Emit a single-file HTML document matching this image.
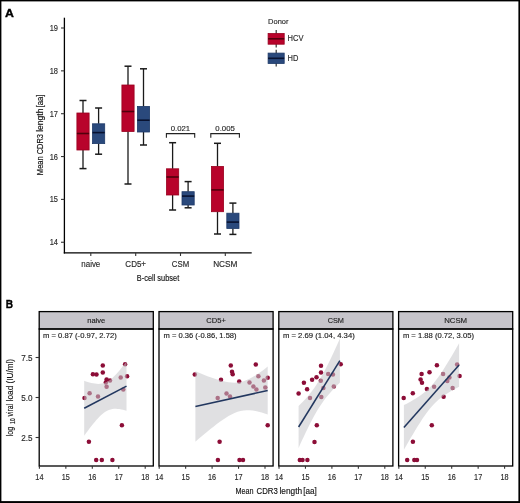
<!DOCTYPE html>
<html><head><meta charset="utf-8"><title>Figure</title>
<style>html,body{margin:0;padding:0;background:#fff;}body{width:520px;height:503px;overflow:hidden;font-family:"Liberation Sans",sans-serif;}svg{display:block;will-change:transform;}</style>
</head><body>
<svg width="520" height="503" viewBox="0 0 520 503" font-family='"Liberation Sans", sans-serif'>
<rect x="0" y="0" width="520" height="503" fill="#fff"/>
<text x="5.0" y="16.9" font-size="11.2" text-anchor="start" fill="#000" font-weight="bold" stroke="#000" stroke-width="0.35" textLength="8.9" lengthAdjust="spacingAndGlyphs">A</text>
<line x1="64.4" y1="17.7" x2="64.4" y2="253.5" stroke="#000" stroke-width="1.3"/>
<line x1="63.8" y1="252.9" x2="251.7" y2="252.9" stroke="#000" stroke-width="1.3"/>
<line x1="61" y1="28.0" x2="64.4" y2="28.0" stroke="#333" stroke-width="1.1"/>
<text x="58.0" y="31.0" font-size="8.4" text-anchor="end" fill="#2a2a2a" font-weight="normal" stroke="#2a2a2a" stroke-width="0.15" textLength="8.3" lengthAdjust="spacingAndGlyphs">19</text>
<line x1="61" y1="70.85" x2="64.4" y2="70.85" stroke="#333" stroke-width="1.1"/>
<text x="58.0" y="73.85" font-size="8.4" text-anchor="end" fill="#2a2a2a" font-weight="normal" stroke="#2a2a2a" stroke-width="0.15" textLength="8.3" lengthAdjust="spacingAndGlyphs">18</text>
<line x1="61" y1="113.7" x2="64.4" y2="113.7" stroke="#333" stroke-width="1.1"/>
<text x="58.0" y="116.7" font-size="8.4" text-anchor="end" fill="#2a2a2a" font-weight="normal" stroke="#2a2a2a" stroke-width="0.15" textLength="8.3" lengthAdjust="spacingAndGlyphs">17</text>
<line x1="61" y1="156.55" x2="64.4" y2="156.55" stroke="#333" stroke-width="1.1"/>
<text x="58.0" y="159.55" font-size="8.4" text-anchor="end" fill="#2a2a2a" font-weight="normal" stroke="#2a2a2a" stroke-width="0.15" textLength="8.3" lengthAdjust="spacingAndGlyphs">16</text>
<line x1="61" y1="199.4" x2="64.4" y2="199.4" stroke="#333" stroke-width="1.1"/>
<text x="58.0" y="202.4" font-size="8.4" text-anchor="end" fill="#2a2a2a" font-weight="normal" stroke="#2a2a2a" stroke-width="0.15" textLength="8.3" lengthAdjust="spacingAndGlyphs">15</text>
<line x1="61" y1="242.25" x2="64.4" y2="242.25" stroke="#333" stroke-width="1.1"/>
<text x="58.0" y="245.25" font-size="8.4" text-anchor="end" fill="#2a2a2a" font-weight="normal" stroke="#2a2a2a" stroke-width="0.15" textLength="8.3" lengthAdjust="spacingAndGlyphs">14</text>
<line x1="90.8" y1="253" x2="90.8" y2="256" stroke="#333" stroke-width="1.1"/>
<text x="90.8" y="266.8" font-size="8.3" text-anchor="middle" fill="#2a2a2a" font-weight="normal" stroke="#2a2a2a" stroke-width="0.15" textLength="19.0" lengthAdjust="spacingAndGlyphs">naive</text>
<line x1="135.7" y1="253" x2="135.7" y2="256" stroke="#333" stroke-width="1.1"/>
<text x="135.7" y="266.8" font-size="8.3" text-anchor="middle" fill="#2a2a2a" font-weight="normal" stroke="#2a2a2a" stroke-width="0.15" textLength="20.7" lengthAdjust="spacingAndGlyphs">CD5+</text>
<line x1="180.5" y1="253" x2="180.5" y2="256" stroke="#333" stroke-width="1.1"/>
<text x="180.5" y="266.8" font-size="8.3" text-anchor="middle" fill="#2a2a2a" font-weight="normal" stroke="#2a2a2a" stroke-width="0.15" textLength="17.3" lengthAdjust="spacingAndGlyphs">CSM</text>
<line x1="225.3" y1="253" x2="225.3" y2="256" stroke="#333" stroke-width="1.1"/>
<text x="225.3" y="266.8" font-size="8.3" text-anchor="middle" fill="#2a2a2a" font-weight="normal" stroke="#2a2a2a" stroke-width="0.15" textLength="24.3" lengthAdjust="spacingAndGlyphs">NCSM</text>
<text x="158.0" y="280.5" font-size="9.8" text-anchor="middle" fill="#111" font-weight="normal" stroke="#111" stroke-width="0.15" textLength="42.4" lengthAdjust="spacingAndGlyphs">B-cell subset</text>
<text transform="translate(43.0,175.2) rotate(-90)" x="0" y="0" font-size="9.6" fill="#111" stroke="#111" stroke-width="0.15" textLength="19.0" lengthAdjust="spacingAndGlyphs">Mean</text>
<text transform="translate(43.0,154.3) rotate(-90)" x="0" y="0" font-size="9.6" fill="#111" stroke="#111" stroke-width="0.15" textLength="20.3" lengthAdjust="spacingAndGlyphs">CDR3</text>
<text transform="translate(43.0,131.8) rotate(-90)" x="0" y="0" font-size="9.6" fill="#111" stroke="#111" stroke-width="0.15" textLength="23.3" lengthAdjust="spacingAndGlyphs">length</text>
<text transform="translate(43.0,107.3) rotate(-90)" x="0" y="0" font-size="9.6" fill="#111" stroke="#111" stroke-width="0.15" textLength="12.7" lengthAdjust="spacingAndGlyphs">[aa]</text>
<line x1="83.0" y1="100.5" x2="83.0" y2="113.0" stroke="#1a1a1a" stroke-width="1.3"/>
<line x1="83.0" y1="150.0" x2="83.0" y2="168.6" stroke="#1a1a1a" stroke-width="1.3"/>
<line x1="79.5" y1="100.5" x2="86.5" y2="100.5" stroke="#1a1a1a" stroke-width="1.5"/>
<line x1="79.5" y1="168.6" x2="86.5" y2="168.6" stroke="#1a1a1a" stroke-width="1.5"/>
<rect x="76.9" y="113.0" width="12.2" height="37.0" fill="#B8032B" stroke="#9A001E" stroke-width="0.8"/>
<line x1="76.9" y1="133.5" x2="89.1" y2="133.5" stroke="#50000C" stroke-width="1.6"/>
<line x1="98.6" y1="108.0" x2="98.6" y2="123.8" stroke="#1a1a1a" stroke-width="1.3"/>
<line x1="98.6" y1="143.6" x2="98.6" y2="154.2" stroke="#1a1a1a" stroke-width="1.3"/>
<line x1="95.1" y1="108.0" x2="102.1" y2="108.0" stroke="#1a1a1a" stroke-width="1.5"/>
<line x1="95.1" y1="154.2" x2="102.1" y2="154.2" stroke="#1a1a1a" stroke-width="1.5"/>
<rect x="92.5" y="123.8" width="12.2" height="19.799999999999997" fill="#2A497C" stroke="#1F3B69" stroke-width="0.8"/>
<line x1="92.5" y1="132.6" x2="104.69999999999999" y2="132.6" stroke="#081230" stroke-width="1.6"/>
<line x1="128.0" y1="66.2" x2="128.0" y2="85.0" stroke="#1a1a1a" stroke-width="1.3"/>
<line x1="128.0" y1="131.5" x2="128.0" y2="184.0" stroke="#1a1a1a" stroke-width="1.3"/>
<line x1="124.5" y1="66.2" x2="131.5" y2="66.2" stroke="#1a1a1a" stroke-width="1.5"/>
<line x1="124.5" y1="184.0" x2="131.5" y2="184.0" stroke="#1a1a1a" stroke-width="1.5"/>
<rect x="121.9" y="85.0" width="12.2" height="46.5" fill="#B8032B" stroke="#9A001E" stroke-width="0.8"/>
<line x1="121.9" y1="111.5" x2="134.1" y2="111.5" stroke="#50000C" stroke-width="1.6"/>
<line x1="143.5" y1="68.8" x2="143.5" y2="106.4" stroke="#1a1a1a" stroke-width="1.3"/>
<line x1="143.5" y1="132.0" x2="143.5" y2="145.0" stroke="#1a1a1a" stroke-width="1.3"/>
<line x1="140.0" y1="68.8" x2="147.0" y2="68.8" stroke="#1a1a1a" stroke-width="1.5"/>
<line x1="140.0" y1="145.0" x2="147.0" y2="145.0" stroke="#1a1a1a" stroke-width="1.5"/>
<rect x="137.4" y="106.4" width="12.2" height="25.599999999999994" fill="#2A497C" stroke="#1F3B69" stroke-width="0.8"/>
<line x1="137.4" y1="120.2" x2="149.6" y2="120.2" stroke="#081230" stroke-width="1.6"/>
<line x1="172.6" y1="142.7" x2="172.6" y2="168.8" stroke="#1a1a1a" stroke-width="1.3"/>
<line x1="172.6" y1="195.0" x2="172.6" y2="210.0" stroke="#1a1a1a" stroke-width="1.3"/>
<line x1="169.1" y1="142.7" x2="176.1" y2="142.7" stroke="#1a1a1a" stroke-width="1.5"/>
<line x1="169.1" y1="210.0" x2="176.1" y2="210.0" stroke="#1a1a1a" stroke-width="1.5"/>
<rect x="166.5" y="168.8" width="12.2" height="26.19999999999999" fill="#B8032B" stroke="#9A001E" stroke-width="0.8"/>
<line x1="166.5" y1="177.0" x2="178.7" y2="177.0" stroke="#50000C" stroke-width="1.6"/>
<line x1="188.1" y1="181.6" x2="188.1" y2="191.7" stroke="#1a1a1a" stroke-width="1.3"/>
<line x1="188.1" y1="205.0" x2="188.1" y2="207.8" stroke="#1a1a1a" stroke-width="1.3"/>
<line x1="184.6" y1="181.6" x2="191.6" y2="181.6" stroke="#1a1a1a" stroke-width="1.5"/>
<line x1="184.6" y1="207.8" x2="191.6" y2="207.8" stroke="#1a1a1a" stroke-width="1.5"/>
<rect x="182.0" y="191.7" width="12.2" height="13.300000000000011" fill="#2A497C" stroke="#1F3B69" stroke-width="0.8"/>
<line x1="182.0" y1="196.1" x2="194.2" y2="196.1" stroke="#081230" stroke-width="1.6"/>
<line x1="217.5" y1="143.3" x2="217.5" y2="166.4" stroke="#1a1a1a" stroke-width="1.3"/>
<line x1="217.5" y1="211.7" x2="217.5" y2="234.0" stroke="#1a1a1a" stroke-width="1.3"/>
<line x1="214.0" y1="143.3" x2="221.0" y2="143.3" stroke="#1a1a1a" stroke-width="1.5"/>
<line x1="214.0" y1="234.0" x2="221.0" y2="234.0" stroke="#1a1a1a" stroke-width="1.5"/>
<rect x="211.4" y="166.4" width="12.2" height="45.29999999999998" fill="#B8032B" stroke="#9A001E" stroke-width="0.8"/>
<line x1="211.4" y1="189.9" x2="223.6" y2="189.9" stroke="#50000C" stroke-width="1.6"/>
<line x1="232.9" y1="203.1" x2="232.9" y2="213.2" stroke="#1a1a1a" stroke-width="1.3"/>
<line x1="232.9" y1="228.5" x2="232.9" y2="234.4" stroke="#1a1a1a" stroke-width="1.3"/>
<line x1="229.4" y1="203.1" x2="236.4" y2="203.1" stroke="#1a1a1a" stroke-width="1.5"/>
<line x1="229.4" y1="234.4" x2="236.4" y2="234.4" stroke="#1a1a1a" stroke-width="1.5"/>
<rect x="226.8" y="213.2" width="12.2" height="15.300000000000011" fill="#2A497C" stroke="#1F3B69" stroke-width="0.8"/>
<line x1="226.8" y1="222.1" x2="239.0" y2="222.1" stroke="#081230" stroke-width="1.6"/>
<polyline points="166.4,137.8 166.4,133.6 194.7,133.6 194.7,137.8" fill="none" stroke="#222" stroke-width="1.1"/>
<text x="180.4" y="130.9" font-size="7.8" text-anchor="middle" fill="#2a2a2a" font-weight="normal" stroke="#2a2a2a" stroke-width="0.15" textLength="19.5" lengthAdjust="spacingAndGlyphs">0.021</text>
<polyline points="210.8,137.8 210.8,133.6 239.4,133.6 239.4,137.8" fill="none" stroke="#222" stroke-width="1.1"/>
<text x="225.1" y="130.9" font-size="7.8" text-anchor="middle" fill="#2a2a2a" font-weight="normal" stroke="#2a2a2a" stroke-width="0.15" textLength="19.5" lengthAdjust="spacingAndGlyphs">0.005</text>
<text x="268.1" y="24.2" font-size="8.0" text-anchor="start" fill="#2a2a2a" font-weight="normal" stroke="#2a2a2a" stroke-width="0.15" textLength="20.4" lengthAdjust="spacingAndGlyphs">Donor</text>
<line x1="276.2" y1="30.0" x2="276.2" y2="47.4" stroke="#333" stroke-width="1.2"/>
<rect x="268.1" y="33.5" width="16.1" height="10.700000000000003" fill="#B8032B" stroke="#9A001E" stroke-width="0.8"/>
<line x1="268.1" y1="38.8" x2="284.2" y2="38.8" stroke="#50000C" stroke-width="1.6"/>
<text x="287.6" y="41.1" font-size="8.2" text-anchor="start" fill="#2a2a2a" font-weight="normal" stroke="#2a2a2a" stroke-width="0.15" textLength="15.9" lengthAdjust="spacingAndGlyphs">HCV</text>
<line x1="276.2" y1="49.7" x2="276.2" y2="66.6" stroke="#333" stroke-width="1.2"/>
<rect x="268.1" y="53.1" width="16.1" height="10.399999999999999" fill="#2A497C" stroke="#1F3B69" stroke-width="0.8"/>
<line x1="268.1" y1="58.3" x2="284.2" y2="58.3" stroke="#081230" stroke-width="1.6"/>
<text x="287.6" y="60.6" font-size="8.2" text-anchor="start" fill="#2a2a2a" font-weight="normal" stroke="#2a2a2a" stroke-width="0.15" textLength="10.8" lengthAdjust="spacingAndGlyphs">HD</text>
<text x="5.8" y="308.3" font-size="10.6" text-anchor="start" fill="#000" font-weight="bold" stroke="#000" stroke-width="0.35" textLength="7.3" lengthAdjust="spacingAndGlyphs">B</text>
<clipPath id="c0"><rect x="39.2" y="329.0" width="114.1" height="137.0"/></clipPath>
<g clip-path="url(#c0)">
<circle cx="102.8" cy="365.5" r="2.25" fill="#8C0D37"/>
<circle cx="102.8" cy="372.4" r="2.25" fill="#8C0D37"/>
<circle cx="92.9" cy="374.2" r="2.25" fill="#8C0D37"/>
<circle cx="96.5" cy="374.6" r="2.25" fill="#8C0D37"/>
<circle cx="106.6" cy="379.6" r="2.25" fill="#8C0D37"/>
<circle cx="110.0" cy="380.5" r="2.25" fill="#8C0D37"/>
<circle cx="105.8" cy="382.6" r="2.25" fill="#8C0D37"/>
<circle cx="106.6" cy="386.8" r="2.25" fill="#8C0D37"/>
<circle cx="125.1" cy="364.3" r="2.25" fill="#8C0D37"/>
<circle cx="120.7" cy="377.4" r="2.25" fill="#8C0D37"/>
<circle cx="127.1" cy="376.3" r="2.25" fill="#8C0D37"/>
<circle cx="89.6" cy="393.3" r="2.25" fill="#8C0D37"/>
<circle cx="84.5" cy="398.1" r="2.25" fill="#8C0D37"/>
<circle cx="98.0" cy="396.6" r="2.25" fill="#8C0D37"/>
<circle cx="123.3" cy="389.4" r="2.25" fill="#8C0D37"/>
<circle cx="88.9" cy="441.8" r="2.25" fill="#8C0D37"/>
<circle cx="121.9" cy="425.3" r="2.25" fill="#8C0D37"/>
<circle cx="96.2" cy="459.9" r="2.25" fill="#8C0D37"/>
<circle cx="101.8" cy="459.9" r="2.25" fill="#8C0D37"/>
<circle cx="112.4" cy="459.9" r="2.25" fill="#8C0D37"/>
<polygon points="84.20,380.80 85.96,381.39 87.73,381.94 89.49,382.45 91.25,382.90 93.01,383.28 94.78,383.59 96.54,383.79 98.30,383.88 100.06,383.83 101.83,383.61 103.59,383.21 105.35,382.60 107.11,381.77 108.88,380.72 110.64,379.45 112.40,377.98 114.16,376.32 115.92,374.51 117.69,372.55 119.45,370.48 121.21,368.32 122.97,366.08 124.74,363.77 126.50,361.41 126.50,410.79 124.74,410.28 122.97,409.82 121.21,409.43 119.45,409.12 117.69,408.90 115.92,408.79 114.16,408.83 112.40,409.02 110.64,409.40 108.88,409.98 107.11,410.78 105.35,411.80 103.59,413.04 101.83,414.49 100.06,416.12 98.30,417.92 96.54,419.86 94.78,421.91 93.01,424.07 91.25,426.30 89.49,428.60 87.73,430.96 85.96,433.36 84.20,435.80" fill="#C6C6CB" fill-opacity="0.55"/>
<line x1="84.2" y1="408.3" x2="126.5" y2="386.1" stroke="#22375F" stroke-width="1.55"/>
</g>
<rect x="39.2" y="311.6" width="114.1" height="17.399999999999977" fill="#C6C4CA" stroke="#000" stroke-width="1.3"/>
<text x="96.25" y="322.6" font-size="8.1" text-anchor="middle" fill="#222" font-weight="normal" stroke="#222" stroke-width="0.15" textLength="18.0" lengthAdjust="spacingAndGlyphs">naive</text>
<rect x="39.2" y="329.0" width="114.1" height="137.0" fill="none" stroke="#000" stroke-width="1.3"/>
<text x="42.9" y="338.1" font-size="7.8" text-anchor="start" fill="#222" font-weight="normal" stroke="#222" stroke-width="0.15" textLength="73.9" lengthAdjust="spacingAndGlyphs">m = 0.87 (-0.97, 2.72)</text>
<line x1="39.4" y1="466.0" x2="39.4" y2="468.8" stroke="#333" stroke-width="1.1"/>
<text x="39.4" y="479.9" font-size="8.4" text-anchor="middle" fill="#2a2a2a" font-weight="normal" stroke="#2a2a2a" stroke-width="0.15" textLength="8.1" lengthAdjust="spacingAndGlyphs">14</text>
<line x1="65.85" y1="466.0" x2="65.85" y2="468.8" stroke="#333" stroke-width="1.1"/>
<text x="65.85" y="479.9" font-size="8.4" text-anchor="middle" fill="#2a2a2a" font-weight="normal" stroke="#2a2a2a" stroke-width="0.15" textLength="8.1" lengthAdjust="spacingAndGlyphs">15</text>
<line x1="92.3" y1="466.0" x2="92.3" y2="468.8" stroke="#333" stroke-width="1.1"/>
<text x="92.3" y="479.9" font-size="8.4" text-anchor="middle" fill="#2a2a2a" font-weight="normal" stroke="#2a2a2a" stroke-width="0.15" textLength="8.1" lengthAdjust="spacingAndGlyphs">16</text>
<line x1="118.75" y1="466.0" x2="118.75" y2="468.8" stroke="#333" stroke-width="1.1"/>
<text x="118.75" y="479.9" font-size="8.4" text-anchor="middle" fill="#2a2a2a" font-weight="normal" stroke="#2a2a2a" stroke-width="0.15" textLength="8.1" lengthAdjust="spacingAndGlyphs">17</text>
<line x1="145.2" y1="466.0" x2="145.2" y2="468.8" stroke="#333" stroke-width="1.1"/>
<text x="145.2" y="479.9" font-size="8.4" text-anchor="middle" fill="#2a2a2a" font-weight="normal" stroke="#2a2a2a" stroke-width="0.15" textLength="8.1" lengthAdjust="spacingAndGlyphs">18</text>
<clipPath id="c1"><rect x="159.0" y="329.0" width="114.1" height="137.0"/></clipPath>
<g clip-path="url(#c1)">
<circle cx="194.8" cy="374.4" r="2.25" fill="#8C0D37"/>
<circle cx="230.8" cy="365.5" r="2.25" fill="#8C0D37"/>
<circle cx="232.0" cy="371.7" r="2.25" fill="#8C0D37"/>
<circle cx="232.7" cy="374.3" r="2.25" fill="#8C0D37"/>
<circle cx="221.0" cy="379.7" r="2.25" fill="#8C0D37"/>
<circle cx="239.2" cy="381.5" r="2.25" fill="#8C0D37"/>
<circle cx="217.7" cy="398.0" r="2.25" fill="#8C0D37"/>
<circle cx="226.5" cy="393.4" r="2.25" fill="#8C0D37"/>
<circle cx="230.0" cy="396.5" r="2.25" fill="#8C0D37"/>
<circle cx="249.5" cy="382.5" r="2.25" fill="#8C0D37"/>
<circle cx="255.8" cy="364.5" r="2.25" fill="#8C0D37"/>
<circle cx="258.4" cy="376.2" r="2.25" fill="#8C0D37"/>
<circle cx="267.7" cy="377.7" r="2.25" fill="#8C0D37"/>
<circle cx="263.9" cy="380.6" r="2.25" fill="#8C0D37"/>
<circle cx="253.4" cy="386.6" r="2.25" fill="#8C0D37"/>
<circle cx="256.4" cy="389.4" r="2.25" fill="#8C0D37"/>
<circle cx="265.3" cy="387.4" r="2.25" fill="#8C0D37"/>
<circle cx="219.6" cy="441.7" r="2.25" fill="#8C0D37"/>
<circle cx="217.9" cy="459.9" r="2.25" fill="#8C0D37"/>
<circle cx="239.5" cy="459.9" r="2.25" fill="#8C0D37"/>
<circle cx="243.0" cy="459.9" r="2.25" fill="#8C0D37"/>
<circle cx="267.7" cy="425.3" r="2.25" fill="#8C0D37"/>
<polygon points="195.40,371.28 198.41,372.54 201.43,373.78 204.44,374.98 207.45,376.15 210.46,377.28 213.47,378.34 216.49,379.35 219.50,380.26 222.51,381.07 225.53,381.75 228.54,382.27 231.55,382.59 234.56,382.68 237.57,382.49 240.59,382.00 243.60,381.20 246.61,380.10 249.62,378.71 252.64,377.09 255.65,375.26 258.66,373.27 261.68,371.14 264.69,368.91 267.70,366.58 267.70,414.42 264.69,413.43 261.68,412.52 258.66,411.73 255.65,411.07 252.64,410.58 249.62,410.29 246.61,410.24 243.60,410.47 240.59,411.00 237.57,411.84 234.56,412.99 231.55,414.41 228.54,416.06 225.53,417.91 222.51,419.93 219.50,422.07 216.49,424.32 213.47,426.66 210.46,429.06 207.45,431.51 204.44,434.02 201.43,436.55 198.41,439.12 195.40,441.72" fill="#C6C6CB" fill-opacity="0.55"/>
<line x1="195.4" y1="406.5" x2="267.7" y2="390.5" stroke="#22375F" stroke-width="1.55"/>
</g>
<rect x="159.0" y="311.6" width="114.1" height="17.399999999999977" fill="#C6C4CA" stroke="#000" stroke-width="1.3"/>
<text x="216.05" y="322.6" font-size="8.1" text-anchor="middle" fill="#222" font-weight="normal" stroke="#222" stroke-width="0.15" textLength="19.5" lengthAdjust="spacingAndGlyphs">CD5+</text>
<rect x="159.0" y="329.0" width="114.1" height="137.0" fill="none" stroke="#000" stroke-width="1.3"/>
<text x="163.6" y="338.1" font-size="7.8" text-anchor="start" fill="#222" font-weight="normal" stroke="#222" stroke-width="0.15" textLength="73.0" lengthAdjust="spacingAndGlyphs">m = 0.36 (-0.86, 1.58)</text>
<line x1="159.2" y1="466.0" x2="159.2" y2="468.8" stroke="#333" stroke-width="1.1"/>
<text x="159.2" y="479.9" font-size="8.4" text-anchor="middle" fill="#2a2a2a" font-weight="normal" stroke="#2a2a2a" stroke-width="0.15" textLength="8.1" lengthAdjust="spacingAndGlyphs">14</text>
<line x1="185.65" y1="466.0" x2="185.65" y2="468.8" stroke="#333" stroke-width="1.1"/>
<text x="185.65" y="479.9" font-size="8.4" text-anchor="middle" fill="#2a2a2a" font-weight="normal" stroke="#2a2a2a" stroke-width="0.15" textLength="8.1" lengthAdjust="spacingAndGlyphs">15</text>
<line x1="212.1" y1="466.0" x2="212.1" y2="468.8" stroke="#333" stroke-width="1.1"/>
<text x="212.1" y="479.9" font-size="8.4" text-anchor="middle" fill="#2a2a2a" font-weight="normal" stroke="#2a2a2a" stroke-width="0.15" textLength="8.1" lengthAdjust="spacingAndGlyphs">16</text>
<line x1="238.55" y1="466.0" x2="238.55" y2="468.8" stroke="#333" stroke-width="1.1"/>
<text x="238.55" y="479.9" font-size="8.4" text-anchor="middle" fill="#2a2a2a" font-weight="normal" stroke="#2a2a2a" stroke-width="0.15" textLength="8.1" lengthAdjust="spacingAndGlyphs">17</text>
<line x1="265.0" y1="466.0" x2="265.0" y2="468.8" stroke="#333" stroke-width="1.1"/>
<text x="265.0" y="479.9" font-size="8.4" text-anchor="middle" fill="#2a2a2a" font-weight="normal" stroke="#2a2a2a" stroke-width="0.15" textLength="8.1" lengthAdjust="spacingAndGlyphs">18</text>
<clipPath id="c2"><rect x="278.8" y="329.0" width="114.1" height="137.0"/></clipPath>
<g clip-path="url(#c2)">
<circle cx="321.0" cy="365.7" r="2.25" fill="#8C0D37"/>
<circle cx="321.0" cy="372.6" r="2.25" fill="#8C0D37"/>
<circle cx="316.5" cy="377.3" r="2.25" fill="#8C0D37"/>
<circle cx="312.1" cy="379.7" r="2.25" fill="#8C0D37"/>
<circle cx="303.9" cy="382.7" r="2.25" fill="#8C0D37"/>
<circle cx="307.1" cy="389.3" r="2.25" fill="#8C0D37"/>
<circle cx="298.6" cy="393.5" r="2.25" fill="#8C0D37"/>
<circle cx="320.8" cy="380.7" r="2.25" fill="#8C0D37"/>
<circle cx="328.2" cy="374.1" r="2.25" fill="#8C0D37"/>
<circle cx="332.9" cy="374.4" r="2.25" fill="#8C0D37"/>
<circle cx="333.8" cy="386.5" r="2.25" fill="#8C0D37"/>
<circle cx="340.7" cy="364.2" r="2.25" fill="#8C0D37"/>
<circle cx="323.4" cy="388.1" r="2.25" fill="#8C0D37"/>
<circle cx="310.0" cy="397.9" r="2.25" fill="#8C0D37"/>
<circle cx="321.3" cy="397.0" r="2.25" fill="#8C0D37"/>
<circle cx="316.8" cy="425.3" r="2.25" fill="#8C0D37"/>
<circle cx="314.5" cy="442.1" r="2.25" fill="#8C0D37"/>
<circle cx="299.8" cy="460.0" r="2.25" fill="#8C0D37"/>
<circle cx="302.5" cy="460.0" r="2.25" fill="#8C0D37"/>
<circle cx="307.4" cy="460.0" r="2.25" fill="#8C0D37"/>
<polygon points="298.60,406.08 300.32,404.36 302.04,402.58 303.76,400.76 305.48,398.88 307.20,396.92 308.93,394.88 310.65,392.75 312.37,390.52 314.09,388.16 315.81,385.67 317.53,383.05 319.25,380.28 320.97,377.37 322.69,374.33 324.41,371.15 326.13,367.86 327.85,364.46 329.57,360.96 331.30,357.39 333.02,353.74 334.74,350.03 336.46,346.27 338.18,342.46 339.90,338.62 339.90,382.58 338.18,384.27 336.46,386.00 334.74,387.77 333.02,389.59 331.30,391.48 329.57,393.44 327.85,395.47 326.13,397.61 324.41,399.85 322.69,402.20 320.97,404.69 319.25,407.32 317.53,410.08 315.81,412.99 314.09,416.04 312.37,419.22 310.65,422.51 308.93,425.92 307.20,429.41 305.48,432.99 303.76,436.64 302.04,440.35 300.32,444.11 298.60,447.92" fill="#C6C6CB" fill-opacity="0.55"/>
<line x1="298.6" y1="427.0" x2="339.9" y2="360.6" stroke="#22375F" stroke-width="1.55"/>
</g>
<rect x="278.8" y="311.6" width="114.1" height="17.399999999999977" fill="#C6C4CA" stroke="#000" stroke-width="1.3"/>
<text x="335.85" y="322.6" font-size="8.1" text-anchor="middle" fill="#222" font-weight="normal" stroke="#222" stroke-width="0.15" textLength="16.3" lengthAdjust="spacingAndGlyphs">CSM</text>
<rect x="278.8" y="329.0" width="114.1" height="137.0" fill="none" stroke="#000" stroke-width="1.3"/>
<text x="282.9" y="338.1" font-size="7.8" text-anchor="start" fill="#222" font-weight="normal" stroke="#222" stroke-width="0.15" textLength="71.9" lengthAdjust="spacingAndGlyphs">m = 2.69 (1.04, 4.34)</text>
<line x1="279.0" y1="466.0" x2="279.0" y2="468.8" stroke="#333" stroke-width="1.1"/>
<text x="279.0" y="479.9" font-size="8.4" text-anchor="middle" fill="#2a2a2a" font-weight="normal" stroke="#2a2a2a" stroke-width="0.15" textLength="8.1" lengthAdjust="spacingAndGlyphs">14</text>
<line x1="305.45" y1="466.0" x2="305.45" y2="468.8" stroke="#333" stroke-width="1.1"/>
<text x="305.45" y="479.9" font-size="8.4" text-anchor="middle" fill="#2a2a2a" font-weight="normal" stroke="#2a2a2a" stroke-width="0.15" textLength="8.1" lengthAdjust="spacingAndGlyphs">15</text>
<line x1="331.9" y1="466.0" x2="331.9" y2="468.8" stroke="#333" stroke-width="1.1"/>
<text x="331.9" y="479.9" font-size="8.4" text-anchor="middle" fill="#2a2a2a" font-weight="normal" stroke="#2a2a2a" stroke-width="0.15" textLength="8.1" lengthAdjust="spacingAndGlyphs">16</text>
<line x1="358.35" y1="466.0" x2="358.35" y2="468.8" stroke="#333" stroke-width="1.1"/>
<text x="358.35" y="479.9" font-size="8.4" text-anchor="middle" fill="#2a2a2a" font-weight="normal" stroke="#2a2a2a" stroke-width="0.15" textLength="8.1" lengthAdjust="spacingAndGlyphs">17</text>
<line x1="384.8" y1="466.0" x2="384.8" y2="468.8" stroke="#333" stroke-width="1.1"/>
<text x="384.8" y="479.9" font-size="8.4" text-anchor="middle" fill="#2a2a2a" font-weight="normal" stroke="#2a2a2a" stroke-width="0.15" textLength="8.1" lengthAdjust="spacingAndGlyphs">18</text>
<clipPath id="c3"><rect x="398.6" y="329.0" width="114.1" height="137.0"/></clipPath>
<g clip-path="url(#c3)">
<circle cx="436.9" cy="365.3" r="2.25" fill="#8C0D37"/>
<circle cx="429.5" cy="372.3" r="2.25" fill="#8C0D37"/>
<circle cx="421.6" cy="374.1" r="2.25" fill="#8C0D37"/>
<circle cx="420.6" cy="379.4" r="2.25" fill="#8C0D37"/>
<circle cx="422.0" cy="382.7" r="2.25" fill="#8C0D37"/>
<circle cx="426.9" cy="389.0" r="2.25" fill="#8C0D37"/>
<circle cx="412.8" cy="393.3" r="2.25" fill="#8C0D37"/>
<circle cx="403.7" cy="398.0" r="2.25" fill="#8C0D37"/>
<circle cx="434.1" cy="386.7" r="2.25" fill="#8C0D37"/>
<circle cx="443.1" cy="374.1" r="2.25" fill="#8C0D37"/>
<circle cx="447.3" cy="381.1" r="2.25" fill="#8C0D37"/>
<circle cx="449.4" cy="377.6" r="2.25" fill="#8C0D37"/>
<circle cx="452.6" cy="388.0" r="2.25" fill="#8C0D37"/>
<circle cx="457.1" cy="364.4" r="2.25" fill="#8C0D37"/>
<circle cx="459.6" cy="375.9" r="2.25" fill="#8C0D37"/>
<circle cx="443.6" cy="396.8" r="2.25" fill="#8C0D37"/>
<circle cx="431.8" cy="425.3" r="2.25" fill="#8C0D37"/>
<circle cx="412.9" cy="441.7" r="2.25" fill="#8C0D37"/>
<circle cx="407.2" cy="460.0" r="2.25" fill="#8C0D37"/>
<circle cx="414.3" cy="460.0" r="2.25" fill="#8C0D37"/>
<circle cx="417.0" cy="460.0" r="2.25" fill="#8C0D37"/>
<polygon points="403.90,405.10 406.20,403.91 408.50,402.68 410.80,401.42 413.10,400.11 415.40,398.74 417.70,397.29 420.00,395.75 422.30,394.10 424.60,392.29 426.90,390.31 429.20,388.12 431.50,385.69 433.80,383.02 436.10,380.11 438.40,376.98 440.70,373.66 443.00,370.18 445.30,366.57 447.60,362.85 449.90,359.05 452.20,355.19 454.50,351.27 456.80,347.31 459.10,343.32 459.10,386.68 456.80,387.89 454.50,389.13 452.20,390.41 449.90,391.75 447.60,393.15 445.30,394.63 443.00,396.22 440.70,397.94 438.40,399.82 436.10,401.89 433.80,404.18 431.50,406.71 429.20,409.48 426.90,412.49 424.60,415.71 422.30,419.10 420.00,422.65 417.70,426.31 415.40,430.06 413.10,433.89 410.80,437.78 408.50,441.72 406.20,445.69 403.90,449.70" fill="#C6C6CB" fill-opacity="0.55"/>
<line x1="403.9" y1="427.4" x2="459.1" y2="365.0" stroke="#22375F" stroke-width="1.55"/>
</g>
<rect x="398.6" y="311.6" width="114.1" height="17.399999999999977" fill="#C6C4CA" stroke="#000" stroke-width="1.3"/>
<text x="455.65" y="322.6" font-size="8.1" text-anchor="middle" fill="#222" font-weight="normal" stroke="#222" stroke-width="0.15" textLength="23.0" lengthAdjust="spacingAndGlyphs">NCSM</text>
<rect x="398.6" y="329.0" width="114.1" height="137.0" fill="none" stroke="#000" stroke-width="1.3"/>
<text x="402.9" y="338.1" font-size="7.8" text-anchor="start" fill="#222" font-weight="normal" stroke="#222" stroke-width="0.15" textLength="71.1" lengthAdjust="spacingAndGlyphs">m = 1.88 (0.72, 3.05)</text>
<line x1="398.8" y1="466.0" x2="398.8" y2="468.8" stroke="#333" stroke-width="1.1"/>
<text x="398.8" y="479.9" font-size="8.4" text-anchor="middle" fill="#2a2a2a" font-weight="normal" stroke="#2a2a2a" stroke-width="0.15" textLength="8.1" lengthAdjust="spacingAndGlyphs">14</text>
<line x1="425.25" y1="466.0" x2="425.25" y2="468.8" stroke="#333" stroke-width="1.1"/>
<text x="425.25" y="479.9" font-size="8.4" text-anchor="middle" fill="#2a2a2a" font-weight="normal" stroke="#2a2a2a" stroke-width="0.15" textLength="8.1" lengthAdjust="spacingAndGlyphs">15</text>
<line x1="451.7" y1="466.0" x2="451.7" y2="468.8" stroke="#333" stroke-width="1.1"/>
<text x="451.7" y="479.9" font-size="8.4" text-anchor="middle" fill="#2a2a2a" font-weight="normal" stroke="#2a2a2a" stroke-width="0.15" textLength="8.1" lengthAdjust="spacingAndGlyphs">16</text>
<line x1="478.15" y1="466.0" x2="478.15" y2="468.8" stroke="#333" stroke-width="1.1"/>
<text x="478.15" y="479.9" font-size="8.4" text-anchor="middle" fill="#2a2a2a" font-weight="normal" stroke="#2a2a2a" stroke-width="0.15" textLength="8.1" lengthAdjust="spacingAndGlyphs">17</text>
<line x1="504.6" y1="466.0" x2="504.6" y2="468.8" stroke="#333" stroke-width="1.1"/>
<text x="504.6" y="479.9" font-size="8.4" text-anchor="middle" fill="#2a2a2a" font-weight="normal" stroke="#2a2a2a" stroke-width="0.15" textLength="8.1" lengthAdjust="spacingAndGlyphs">18</text>
<line x1="35.6" y1="357.5" x2="39.2" y2="357.5" stroke="#333" stroke-width="1.1"/>
<text x="32.6" y="360.7" font-size="8.2" text-anchor="end" fill="#2a2a2a" font-weight="normal" stroke="#2a2a2a" stroke-width="0.15" textLength="11.3" lengthAdjust="spacingAndGlyphs">7.5</text>
<line x1="35.6" y1="397.5" x2="39.2" y2="397.5" stroke="#333" stroke-width="1.1"/>
<text x="32.6" y="400.7" font-size="8.2" text-anchor="end" fill="#2a2a2a" font-weight="normal" stroke="#2a2a2a" stroke-width="0.15" textLength="11.3" lengthAdjust="spacingAndGlyphs">5.0</text>
<line x1="35.6" y1="437.5" x2="39.2" y2="437.5" stroke="#333" stroke-width="1.1"/>
<text x="32.6" y="440.7" font-size="8.2" text-anchor="end" fill="#2a2a2a" font-weight="normal" stroke="#2a2a2a" stroke-width="0.15" textLength="11.3" lengthAdjust="spacingAndGlyphs">2.5</text>
<text x="235.4" y="493.5" font-size="9.8" fill="#111" stroke="#111" stroke-width="0.15" textLength="18.1" lengthAdjust="spacingAndGlyphs">Mean</text>
<text x="256.6" y="493.5" font-size="9.8" fill="#111" stroke="#111" stroke-width="0.15" textLength="21.2" lengthAdjust="spacingAndGlyphs">CDR3</text>
<text x="279.5" y="493.5" font-size="9.8" fill="#111" stroke="#111" stroke-width="0.15" textLength="22.6" lengthAdjust="spacingAndGlyphs">length</text>
<text x="303.3" y="493.5" font-size="9.8" fill="#111" stroke="#111" stroke-width="0.15" textLength="13.5" lengthAdjust="spacingAndGlyphs">[aa]</text>
<text transform="translate(13.1,436.2) rotate(-90)" x="0" y="0" font-size="8.6" fill="#111" stroke="#111" stroke-width="0.15" textLength="9.4" lengthAdjust="spacingAndGlyphs">log</text>
<text transform="translate(15.1,424.1) rotate(-90)" x="0" y="0" font-size="6.8" fill="#111" stroke="#111" stroke-width="0.15" textLength="5.9" lengthAdjust="spacingAndGlyphs">10</text>
<text transform="translate(13.0,416.5) rotate(-90)" x="0" y="0" font-size="8.6" fill="#111" stroke="#111" stroke-width="0.15" textLength="12.6" lengthAdjust="spacingAndGlyphs">viral</text>
<text transform="translate(13.0,401.3) rotate(-90)" x="0" y="0" font-size="8.6" fill="#111" stroke="#111" stroke-width="0.15" textLength="15.6" lengthAdjust="spacingAndGlyphs">load</text>
<text transform="translate(13.0,383.4) rotate(-90)" x="0" y="0" font-size="8.6" fill="#111" stroke="#111" stroke-width="0.15" textLength="24.5" lengthAdjust="spacingAndGlyphs">(IU/ml)</text>
<rect x="0" y="0" width="520" height="1.4" fill="#000"/>
<rect x="0" y="0" width="1.4" height="503" fill="#000"/>
<rect x="518.4" y="0" width="1.6" height="503" fill="#000"/>
<rect x="0" y="501.1" width="520" height="1.9" fill="#000"/>
</svg>
</body></html>
